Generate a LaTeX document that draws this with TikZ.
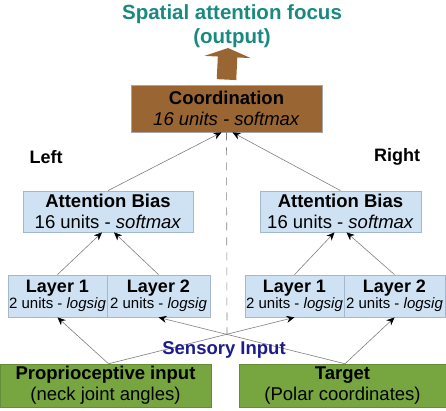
\documentclass[tikz,border=0pt]{standalone}
\usepackage{fontspec}
\setmainfont{Liberation Sans}
\usetikzlibrary{arrows.meta}
\definecolor{titleteal}{HTML}{1A8A80}
\definecolor{coordbrown}{HTML}{996633}
\definecolor{boxblue}{HTML}{CFE2F3}
\definecolor{boxblueline}{HTML}{A3B8CA}
\definecolor{inputgreen}{HTML}{77A53F}
\definecolor{sensnavy}{HTML}{1C1C8E}
\definecolor{linegray}{HTML}{7F7F7F}
\tikzset{
  bigtxt/.style={font=\fontsize{18.5}{21}\selectfont},
  coordbox/.style={draw=gray!70, line width=0.8pt, fill=coordbrown, minimum width=191pt, minimum height=47pt, inner sep=0pt, align=center, bigtxt},
  biasbox/.style={draw=boxblueline, line width=0.8pt, fill=boxblue, minimum height=41pt, inner sep=0pt, align=center, bigtxt},
  layerbox/.style={draw=boxblueline, line width=0.8pt, fill=boxblue, minimum height=42pt, inner sep=0pt, align=center},
  greenbox/.style={draw=inputgreen!85!black, line width=0.5pt, fill=inputgreen, minimum height=43pt, inner sep=0pt, align=center, bigtxt},
  conn/.style={draw=linegray, line width=0.6pt, -{Stealth[length=8pt,width=7pt,color=black]}},
  plainconn/.style={draw=linegray, line width=0.6pt},
  sidelabel/.style={font=\fontsize{18}{21}\selectfont\bfseries}
}
\begin{document}
\begin{tikzpicture}[x=1pt,y=-1pt]
\useasboundingbox (0,0) rectangle (446,411);
% title
\node[align=center, text=titleteal, font=\fontsize{20.5}{24}\selectfont\bfseries] (title) at (232,26) {Spatial attention focus\\(output)};
% boxes
\node[coordbox] (coord) at (226.5,108.5) {\textbf{Coordination}\\\textit{16 units - softmax}};
\node[sidelabel] (left) at (46,157) {Left};
\node[sidelabel] (right) at (397,157) {Right};
\node[biasbox, minimum width=170pt] (abl) at (108,211.5) {\textbf{Attention Bias}\\16 units - \textit{softmax}};
\node[biasbox, minimum width=161pt] (abr) at (340.5,211.5) {\textbf{Attention Bias}\\16 units - \textit{softmax}};
\node[layerbox, minimum width=99pt] (l1l) at (57.5,296) {{\fontsize{18}{20}\selectfont\textbf{Layer 1}}\\{\fontsize{15}{18}\selectfont 2 units - \textit{logsig}}};
\node[layerbox, minimum width=103pt] (l2l) at (158.5,296) {{\fontsize{18}{20}\selectfont\textbf{Layer 2}}\\{\fontsize{15}{18}\selectfont 2 units - \textit{logsig}}};
\node[layerbox, minimum width=99pt] (l1r) at (294.5,296) {{\fontsize{18}{20}\selectfont\textbf{Layer 1}}\\{\fontsize{15}{18}\selectfont 2 units - \textit{logsig}}};
\node[layerbox, minimum width=101pt] (l2r) at (394.5,296) {{\fontsize{18}{20}\selectfont\textbf{Layer 2}}\\{\fontsize{15}{18}\selectfont 2 units - \textit{logsig}}};
\node[greenbox, minimum width=211pt] (gl) at (105.5,385.5) {\textbf{Proprioceptive input}\\(neck joint angles)};
\node[greenbox, minimum width=207pt] (gr) at (342.5,385.5) {\textbf{Target}\\(Polar coordinates)};
% output arrow
\coordinate (tip) at (228,48);
\draw[coordbrown, line width=19.5pt, -{Triangle[length=9pt,width=46pt]}] ([yshift=5pt]coord.north) -- (tip);
% dashed divider
\coordinate (cross) at (227,335);
\draw[plainconn, dash pattern=on 8pt off 7pt] (coord.south) -- (cross);
% connectors
\draw[conn] ([xshift=3pt]gl.north) -- (l1l.south);
\draw[conn] ([xshift=3pt]gl.north) -- (l1r.south);
\draw[conn] ([xshift=2.5pt]gr.north) -- (l2l.south);
\draw[conn] ([xshift=2.5pt]gr.north) -- (l2r.south);
\draw[conn] (l1l.north) -- ([xshift=-6pt]abl.south);
\draw[conn] (l2l.north) -- ([xshift=6pt]abl.south);
\draw[conn] (l1r.north) -- ([xshift=-6pt]abr.south);
\draw[conn] (l2r.north) -- ([xshift=6pt]abr.south);
\draw[conn] (abl.north) -- ([xshift=-5pt]coord.south);
\draw[conn] (abr.north) -- ([xshift=6pt]coord.south);
% sensory input label
\node[text=sensnavy, font=\fontsize{18.5}{21}\selectfont\bfseries] (sens) at (224,350) {Sensory Input};
\end{tikzpicture}
\end{document}
